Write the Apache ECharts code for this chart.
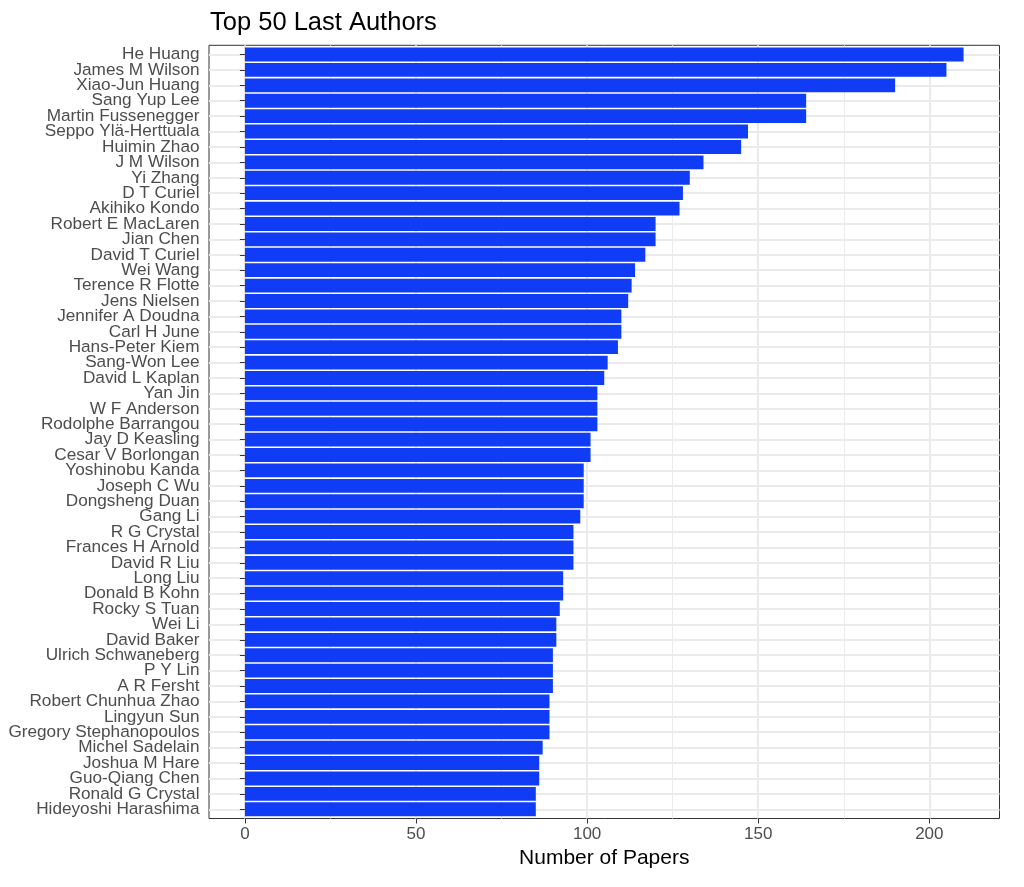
<!DOCTYPE html>
<html>
<head>
<meta charset="utf-8">
<script src="https://cdn.jsdelivr.net/npm/echarts@6/dist/echarts.min.js"></script>
<style>html,body{margin:0;padding:0;background:#fff;}#c{width:1024px;height:887px;}</style>
</head>
<body>
<div id="c"></div>
<script>
const authors = ["He Huang","James M Wilson","Xiao-Jun Huang","Sang Yup Lee","Martin Fussenegger","Seppo Ylä-Herttuala","Huimin Zhao","J M Wilson","Yi Zhang","D T Curiel","Akihiko Kondo","Robert E MacLaren","Jian Chen","David T Curiel","Wei Wang","Terence R Flotte","Jens Nielsen","Jennifer A Doudna","Carl H June","Hans-Peter Kiem","Sang-Won Lee","David L Kaplan","Yan Jin","W F Anderson","Rodolphe Barrangou","Jay D Keasling","Cesar V Borlongan","Yoshinobu Kanda","Joseph C Wu","Dongsheng Duan","Gang Li","R G Crystal","Frances H Arnold","David R Liu","Long Liu","Donald B Kohn","Rocky S Tuan","Wei Li","David Baker","Ulrich Schwaneberg","P Y Lin","A R Fersht","Robert Chunhua Zhao","Lingyun Sun","Gregory Stephanopoulos","Michel Sadelain","Joshua M Hare","Guo-Qiang Chen","Ronald G Crystal","Hideyoshi Harashima"];
const papers = [210,205,190,164,164,147,145,134,130,128,127,120,120,117,114,113,112,110,110,109,106,105,103,103,103,101,101,99,99,99,98,96,96,96,93,93,92,91,91,90,90,90,89,89,89,87,86,86,85,85];
const xTicks = [0,50,100,150,200];
const xMinorTicks = [25,75,125,175];
const rowPositions = authors.map((_, i) => i + 1);

const FONT = 'Liberation Sans, Arial, sans-serif';
const X_MIN = -10.5, X_MAX = 220.5;
const chart = echarts.init(document.getElementById('c'), null, {renderer: 'canvas'});
chart.setOption({
  animation: false,
  backgroundColor: '#ffffff',
  title: {
    text: 'Top 50 Last Authors',
    left: 205, top: 5,
    textStyle: {fontFamily: FONT, fontSize: 25.5, fontWeight: 'normal', color: '#000000'}
  },
  grid: [
    {left: 209, right: 24.5, top: 45.3, bottom: 68.5, show: true, borderColor: '#333333', borderWidth: 1, backgroundColor: 'transparent', containLabel: false},
    {left: 209, right: 24.5, top: 46.84, bottom: 70.04, containLabel: false}
  ],
  xAxis: [
    {
      type: 'value', gridIndex: 0, min: X_MIN, max: X_MAX,
      name: 'Number of Papers', nameLocation: 'middle', nameGap: 26.5,
      nameTextStyle: {fontFamily: FONT, fontSize: 21, color: '#000000'},
      axisLine: {show: false},
      axisTick: {show: true, length: 5, customValues: xTicks, lineStyle: {color: '#333333', width: 1}},
      axisLabel: {show: true, customValues: xTicks, margin: 7.5, fontFamily: FONT, fontSize: 17, color: '#4d4d4d'},
      splitLine: {show: true, lineStyle: {color: '#ebebeb', width: 2}}
    },
    {
      type: 'value', gridIndex: 0, min: X_MIN, max: X_MAX,
      axisLine: {show: false},
      axisTick: {show: false, customValues: xMinorTicks},
      axisLabel: {show: false, customValues: xMinorTicks},
      splitLine: {show: true, lineStyle: {color: '#ebebeb', width: 1}}
    },
    {
      type: 'value', gridIndex: 1, min: X_MIN, max: X_MAX, show: false
    }
  ],
  yAxis: [
    {
      type: 'value', gridIndex: 0, min: 0.4, max: 50.6, inverse: true,
      axisLine: {show: false},
      axisTick: {show: false, customValues: rowPositions},
      axisLabel: {show: false, customValues: rowPositions},
      splitLine: {show: true, lineStyle: {color: '#ebebeb', width: 2}}
    },
    {
      type: 'category', gridIndex: 1, data: authors, inverse: true,
      axisLine: {show: false},
      axisTick: {show: true, alignWithLabel: true, length: 5, lineStyle: {color: '#333333', width: 1}},
      axisLabel: {margin: 9.5, fontFamily: FONT, fontSize: 17.2, color: '#4d4d4d', interval: 0},
      splitLine: {show: false}
    }
  ],
  series: [{
    type: 'bar', xAxisIndex: 2, yAxisIndex: 1,
    data: papers, barCategoryGap: '10%',
    itemStyle: {color: '#103cf5'}
  }]
});
</script>
</body>
</html>
